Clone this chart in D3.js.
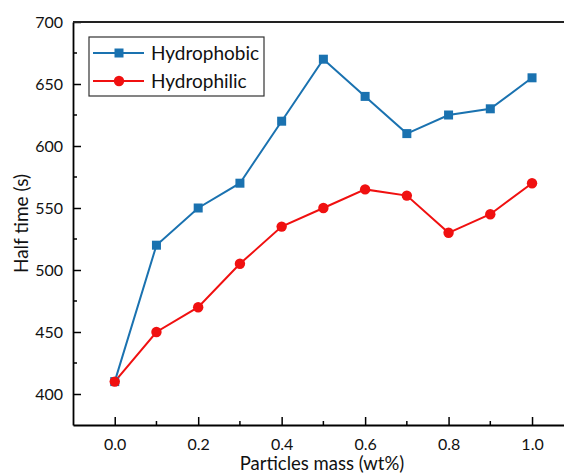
<!DOCTYPE html>
<html><head><meta charset="utf-8">
<script src="https://cdn.jsdelivr.net/npm/d3@7"></script>
<style>body{margin:0;background:#fff}svg{display:block}</style>
</head><body>
<svg id="c" width="564" height="475"></svg>
<script>
const xValues = [0.0, 0.1, 0.2, 0.3, 0.4, 0.5, 0.6, 0.7, 0.8, 0.9, 1.0];
const hydrophobic = [410, 520, 550, 570, 620, 670, 640, 610, 625, 630, 655];
const hydrophilic = [410, 450, 470, 505, 535, 550, 565, 560, 530, 545, 570];
const xTicks = [0.0, 0.2, 0.4, 0.6, 0.8, 1.0];
const xMinor = [0.1, 0.3, 0.5, 0.7, 0.9];
const yTicks = [400, 450, 500, 550, 600, 650, 700];
const yMinor = [425, 475, 525, 575, 625, 675];
const seriesNames = ["Hydrophobic", "Hydrophilic"];
const colors = ["#1a72b0", "#f01010"];

(function () {
const svg = d3.select("#c");
const W = 564, H = 475;
const pLeft = 73, pTop = 22, pBottom = 425;
const x = d3.scaleLinear().domain([-0.1, 1.1]).range([pLeft, pLeft + 1.2 * 417.3]);
const y = d3.scaleLinear().domain([375, 700]).range([pBottom, pTop]);
const font = "Lato, 'Open Sans', sans-serif";

// axes
const gx = svg.append("g").attr("transform", `translate(0,${pBottom})`)
  .call(d3.axisBottom(x).tickValues(xTicks).tickFormat(d3.format(".1f")).tickSizeInner(-8).tickSizeOuter(0).tickPadding(14));
gx.append("g").selectAll("line").data(xMinor).join("line")
  .attr("x1", d => x(d)).attr("x2", d => x(d)).attr("y1", 0).attr("y2", -4).attr("stroke", "#000").attr("stroke-width", 1.5);
const gy = svg.append("g").attr("transform", `translate(${pLeft},0)`)
  .call(d3.axisLeft(y).tickValues(yTicks).tickSizeInner(-8).tickSizeOuter(0).tickPadding(10));
gy.append("g").selectAll("line").data(yMinor).join("line")
  .attr("y1", d => y(d)).attr("y2", d => y(d)).attr("x1", 0).attr("x2", 4).attr("stroke", "#000").attr("stroke-width", 1.5);
[gx, gy].forEach(g => {
  g.select(".domain").attr("stroke-width", 1.8);
  g.selectAll(".tick line").attr("stroke-width", 1.5);
  g.selectAll("text").attr("font-family", font).attr("font-size", 16).attr("fill", "#111");
});
svg.append("line").attr("x1", pLeft).attr("x2", W).attr("y1", pTop).attr("y2", pTop).attr("stroke", "#222").attr("stroke-width", 2);

// axis titles
svg.append("text").attr("transform", `translate(28,${(pTop+pBottom)/2}) rotate(-90)`).attr("text-anchor", "middle")
  .attr("font-family", font).attr("font-size", 19).attr("fill", "#111").text("Half time (s)");
svg.append("text").attr("x", 322).attr("y", 470).attr("text-anchor", "middle")
  .attr("font-family", font).attr("font-size", 18.5).attr("fill", "#111").text("Particles mass (wt%)");

// lines
const line = d3.line().x((d, i) => x(xValues[i])).y(d => y(d));
[hydrophobic, hydrophilic].forEach((s, k) => {
  svg.append("path").datum(s).attr("d", line).attr("fill", "none").attr("stroke", colors[k]).attr("stroke-width", 2);
});
svg.append("g").selectAll("rect").data(hydrophobic).join("rect")
  .attr("x", (d, i) => x(xValues[i]) - 4.5).attr("y", d => y(d) - 4.5).attr("width", 9).attr("height", 9).attr("fill", colors[0]);
svg.append("g").selectAll("circle").data(hydrophilic).join("circle")
  .attr("cx", (d, i) => x(xValues[i])).attr("cy", d => y(d)).attr("r", 5.2).attr("fill", colors[1]);

// legend
const lg = svg.append("g");
lg.append("rect").attr("x", 89).attr("y", 37).attr("width", 175).attr("height", 59).attr("fill", "#fff").attr("stroke", "#333").attr("stroke-width", 1.2);
const rowsY = [53, 81];
seriesNames.forEach((n, k) => {
  lg.append("line").attr("x1", 93).attr("x2", 144).attr("y1", rowsY[k]).attr("y2", rowsY[k]).attr("stroke", colors[k]).attr("stroke-width", 2);
  if (k === 0) lg.append("rect").attr("x", 119 - 4.5).attr("y", rowsY[k] - 4.5).attr("width", 9).attr("height", 9).attr("fill", colors[0]);
  else lg.append("circle").attr("cx", 119).attr("cy", rowsY[k]).attr("r", 5.2).attr("fill", colors[1]);
  lg.append("text").attr("x", 151).attr("y", rowsY[k]).attr("dy", "0.35em").attr("font-family", font).attr("font-size", 19).attr("fill", "#111").text(n);
});
})();
</script>
</body></html>
